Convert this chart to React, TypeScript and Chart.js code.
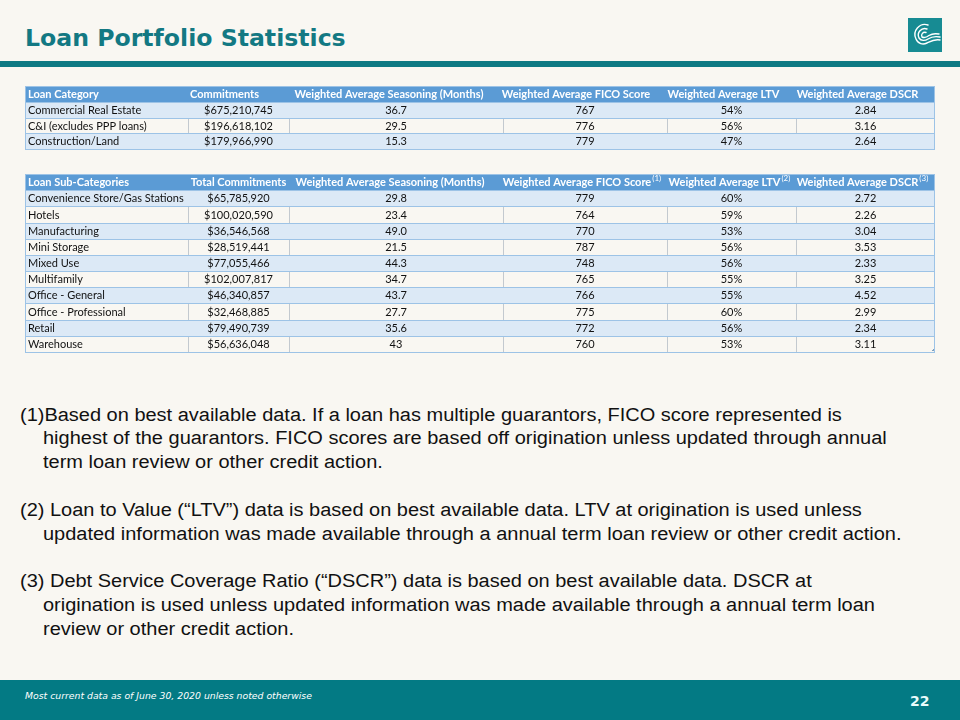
import React, { useEffect, useRef } from "react";
import { Chart, registerables } from "chart.js";

Chart.register(...registerables);

// ---------- DATA ----------
const categoryHeaders = [
  "Loan Category",
  "Commitments",
  "Weighted Average Seasoning (Months)",
  "Weighted Average FICO Score",
  "Weighted Average LTV",
  "Weighted Average DSCR",
];
const categories = ["Commercial Real Estate", "C&I (excludes PPP loans)", "Construction/Land"];
const catCommitments = [675210745, 196618102, 179966990];
const catSeasoning = ["36.7", "29.5", "15.3"];
const catFico = [767, 776, 779];
const catLtv = [54, 56, 47];
const catDscr = [2.84, 3.16, 2.64];

const subHeaders = [
  "Loan Sub-Categories",
  "Total Commitments",
  "Weighted Average Seasoning (Months)",
  "Weighted Average FICO Score",
  "Weighted Average LTV",
  "Weighted Average DSCR",
];
const subHeaderNotes = ["", "", "", "(1)", "(2)", "(3)"];
const subCategories = [
  "Convenience Store/Gas Stations",
  "Hotels",
  "Manufacturing",
  "Mini Storage",
  "Mixed Use",
  "Multifamily",
  "Office - General",
  "Office - Professional",
  "Retail",
  "Warehouse",
];
const subCommitments = [65785920, 100020590, 36546568, 28519441, 77055466, 102007817, 46340857, 32468885, 79490739, 56636048];
const subSeasoning = ["29.8", "23.4", "49.0", "21.5", "44.3", "34.7", "43.7", "27.7", "35.6", "43"];
const subFico = [779, 764, 770, 787, 748, 765, 766, 775, 772, 760];
const subLtv = [60, 59, 53, 56, 56, 55, 55, 60, 56, 53];
const subDscr = [2.72, 2.26, 3.04, 3.53, 2.33, 3.25, 4.52, 2.99, 2.34, 3.11];

const footnoteLines = [
  { text: "(1)Based on best available data. If a loan has multiple guarantors, FICO score represented is", indent: false },
  { text: "highest of the guarantors. FICO scores are based off origination unless updated through annual", indent: true },
  { text: "term loan review or other credit action.", indent: true },
  { text: "", indent: false },
  { text: "(2) Loan to Value (\u201CLTV\u201D) data is based on best available data. LTV at origination is used unless", indent: false },
  { text: "updated information was made available through a annual term loan review or other credit action.", indent: true },
  { text: "", indent: false },
  { text: "(3) Debt Service Coverage Ratio (\u201CDSCR\u201D) data is based on best available data. DSCR at", indent: false },
  { text: "origination is used unless updated information was made available through a annual term loan", indent: true },
  { text: "review or other credit action.", indent: true },
];

// ---------- STYLE ----------
const TEAL = "#0f7a84";
const BG = "#f9f7f2";
const TABLE_W = 910;
const COL_EDGES = [0, 163, 264, 478, 642, 771, 910];
const HEAD_FILL = "#5b9bd5";
const BAND_FILL = "#dce9f6";
const LINE = "#9dc3e6";
const VLINE = "#c3c9cf";
const TFONT = "Lato, 'Noto Sans', sans-serif";

const money = (v: number) => "$" + v.toLocaleString("en-US");
const pct = (v: number) => v + "%";

function buildRows(names: string[], comm: number[], seas: string[], fico: number[], ltv: number[], dscr: number[]) {
  return names.map((n, i) => [n, money(comm[i]), seas[i], String(fico[i]), pct(ltv[i]), dscr[i].toFixed(2)]);
}

type Spec = { headers: string[]; notes: string[]; headerDx: number[]; rows: string[][]; grip?: boolean };

function tablePlugin(spec: Spec) {
  return {
    id: "tableDraw",
    afterDraw(chart: any) {
      const ctx = chart.ctx as CanvasRenderingContext2D;
      const xs = chart.scales.x;
      const ys = chart.scales.y;
      const n = spec.rows.length + 1;
      const band = Math.abs(ys.getPixelForValue(1) - ys.getPixelForValue(0));
      const edges = COL_EDGES.map((e) => xs.getPixelForValue(e));
      const left = Math.round(edges[0]);
      const right = Math.round(edges[edges.length - 1]);
      ctx.save();
      const tops: number[] = [];
      for (let r = 0; r <= n; r++) {
        const c = r < n ? ys.getPixelForValue(r) : ys.getPixelForValue(n - 1) + band;
        tops.push(Math.round(c - band / 2));
      }
      // fills
      for (let r = 0; r < n; r++) {
        if (r === 0) ctx.fillStyle = HEAD_FILL;
        else if (r % 2 === 1) ctx.fillStyle = BAND_FILL;
        else continue;
        ctx.fillRect(left, tops[r], right - left, tops[r + 1] - tops[r]);
      }
      // vertical separators on plain rows
      ctx.strokeStyle = VLINE;
      ctx.lineWidth = 1;
      for (let r = 2; r < n; r += 2) {
        for (let c = 1; c < edges.length - 1; c++) {
          const x = Math.round(edges[c]) + 0.5;
          ctx.beginPath();
          ctx.moveTo(x, tops[r]);
          ctx.lineTo(x, tops[r + 1]);
          ctx.stroke();
        }
      }
      // horizontal lines
      ctx.strokeStyle = LINE;
      for (let r = 1; r <= n; r++) {
        const y = tops[r] + 0.5;
        ctx.beginPath();
        ctx.moveTo(left, y);
        ctx.lineTo(right, y);
        ctx.stroke();
      }
      // outer border
      ctx.beginPath();
      ctx.moveTo(left + 0.5, tops[0]);
      ctx.lineTo(left + 0.5, tops[n]);
      ctx.moveTo(right - 0.5, tops[0]);
      ctx.lineTo(right - 0.5, tops[n]);
      ctx.moveTo(left, tops[0] + 0.5);
      ctx.lineTo(right, tops[0] + 0.5);
      ctx.stroke();
      // text
      ctx.textBaseline = "middle";
      for (let r = 0; r < n; r++) {
        const yc = (tops[r] + tops[r + 1]) / 2 + 0.5;
        const cells = r === 0 ? spec.headers : spec.rows[r - 1];
        for (let c = 0; c < cells.length; c++) {
          const x0 = edges[c];
          const x1 = edges[c + 1];
          if (r === 0) {
            ctx.fillStyle = "#ffffff";
            ctx.font = "bold 11px " + TFONT;
            const w = ctx.measureText(cells[c]).width;
            const note = spec.notes[c] || "";
            ctx.font = "8px " + TFONT;
            const wn = note ? ctx.measureText(note).width + 1 : 0;
            ctx.font = "bold 11px " + TFONT;
            ctx.textAlign = "left";
            let sx = c === 0 ? x0 + 3 : (x0 + x1) / 2 - (w + wn) / 2 + spec.headerDx[c];
            ctx.fillText(cells[c], sx, yc);
            if (note) {
              ctx.font = "8px " + TFONT;
              ctx.fillText(note, sx + w + 1, yc - 4);
            }
          } else {
            ctx.fillStyle = "#111111";
            ctx.font = "11px " + TFONT;
            if (c === 0) {
              ctx.textAlign = "left";
              ctx.fillText(cells[c], x0 + 3, yc);
            } else {
              ctx.textAlign = "center";
              ctx.fillText(cells[c], (x0 + x1) / 2, yc);
            }
          }
        }
      }
      if (spec.grip) {
        ctx.fillStyle = "#7f9fbf";
        ctx.fillRect(right - 3, tops[n] - 2, 2, 1);
        ctx.fillRect(right - 2, tops[n] - 3, 1, 2);
      }
      ctx.restore();
    },
  };
}

function TableChart({ spec, left, top, height }: { spec: Spec; left: number; top: number; height: number }) {
  const ref = useRef<HTMLCanvasElement | null>(null);
  useEffect(() => {
    if (!ref.current) return;
    const labels = ["header", ...spec.rows.map((r) => r[0])];
    const chart = new Chart(ref.current, {
      type: "scatter",
      data: { datasets: [{ data: [] }] },
      options: {
        responsive: false,
        animation: false,
        events: [],
        layout: { padding: 1 },
        plugins: { legend: { display: false }, tooltip: { enabled: false } },
        scales: {
          x: { type: "linear", min: 0, max: TABLE_W, display: false },
          y: { type: "category", labels, offset: true, display: false },
        },
      },
      plugins: [tablePlugin(spec)],
    } as any);
    return () => chart.destroy();
  }, []);
  return (
    <canvas
      ref={ref}
      width={TABLE_W + 2}
      height={height + 2}
      style={{ position: "absolute", left: left - 1, top: top - 1, width: TABLE_W + 2, height: height + 2, display: "block" }}
    />
  );
}

const table1: Spec = {
  headers: categoryHeaders,
  notes: ["", "", "", "", "", ""],
  headerDx: [0, -14, -7, -9, -8, -8],
  rows: buildRows(categories, catCommitments, catSeasoning, catFico, catLtv, catDscr),
};
const table2: Spec = {
  headers: subHeaders,
  notes: subHeaderNotes,
  headerDx: [0, 0, -6, -3, -2, -3],
  rows: buildRows(subCategories, subCommitments, subSeasoning, subFico, subLtv, subDscr),
  grip: true,
};

function Logo() {
  return (
    <svg width={34} height={34} viewBox="0 0 34 34" style={{ position: "absolute", left: 908, top: 18 }}>
      <rect width={34} height={34} fill="#178b93" />
      <g fill="none" stroke="#ffffff" strokeWidth={1.4} strokeLinecap="round">
        <path d="M20 7 A10 10 0 0 0 8 21 C10 26 15 27 19 25 C23 23 26 21 32 22" />
        <path d="M19 11 A6.5 6.5 0 0 0 11 20 C13 23 17 23 20 21 C23 19 27 18 32 19" />
        <path d="M18 14.5 A3.2 3.2 0 0 0 14 19 C16 20 19 19 21 17.5 C24 15.5 28 15.5 31 16" />
      </g>
    </svg>
  );
}

export default function App() {
  useEffect(() => {
    document.body.style.margin = "0";
  }, []);
  const lineTop0 = 403.6;
  const lh = 23.8;
  return (
    <div style={{ position: "fixed", left: 0, top: 0, width: 960, height: 720, background: BG, overflow: "hidden" }}>
      <div
        style={{
          position: "absolute",
          left: 25,
          top: 26,
          fontFamily: "'DejaVu Sans', Verdana, sans-serif",
          fontWeight: "bold",
          fontSize: 23.6,
          lineHeight: "24px",
          color: "#137983",
          whiteSpace: "nowrap",
        }}
      >
        Loan Portfolio Statistics
      </div>
      <Logo />
      <div style={{ position: "absolute", left: 0, top: 61, width: 960, height: 6, background: TEAL }} />
      <TableChart spec={table1} left={25} top={86} height={63} />
      <TableChart spec={table2} left={25} top={174} height={178} />
      {footnoteLines.map((l, i) =>
        l.text ? (
          <div
            key={i}
            style={{
              position: "absolute",
              left: l.indent ? 43 : 20,
              top: lineTop0 + i * lh,
              fontFamily: "'Liberation Sans', Arial, sans-serif",
              fontSize: 18,
              lineHeight: lh + "px",
              color: "#111111",
              whiteSpace: "pre",
              transform: "scaleX(1.11)",
              transformOrigin: "0 0",
            }}
          >
            {l.text}
          </div>
        ) : null
      )}
      <div style={{ position: "absolute", left: 0, top: 680, width: 960, height: 40, background: "#037a84" }} />
      <div
        style={{
          position: "absolute",
          left: 25,
          top: 690,
          fontFamily: "'DejaVu Sans', sans-serif",
          fontStyle: "italic",
          fontSize: 9.3,
          lineHeight: "12px",
          color: "#ffffff",
          whiteSpace: "nowrap",
        }}
      >
        Most current data as of June 30, 2020 unless noted otherwise
      </div>
      <div
        style={{
          position: "absolute",
          left: 910,
          top: 693,
          fontFamily: "'DejaVu Sans', sans-serif",
          fontWeight: "bold",
          fontSize: 14,
          lineHeight: "16px",
          color: "#e9fbfb",
        }}
      >
        22
      </div>
    </div>
  );
}
